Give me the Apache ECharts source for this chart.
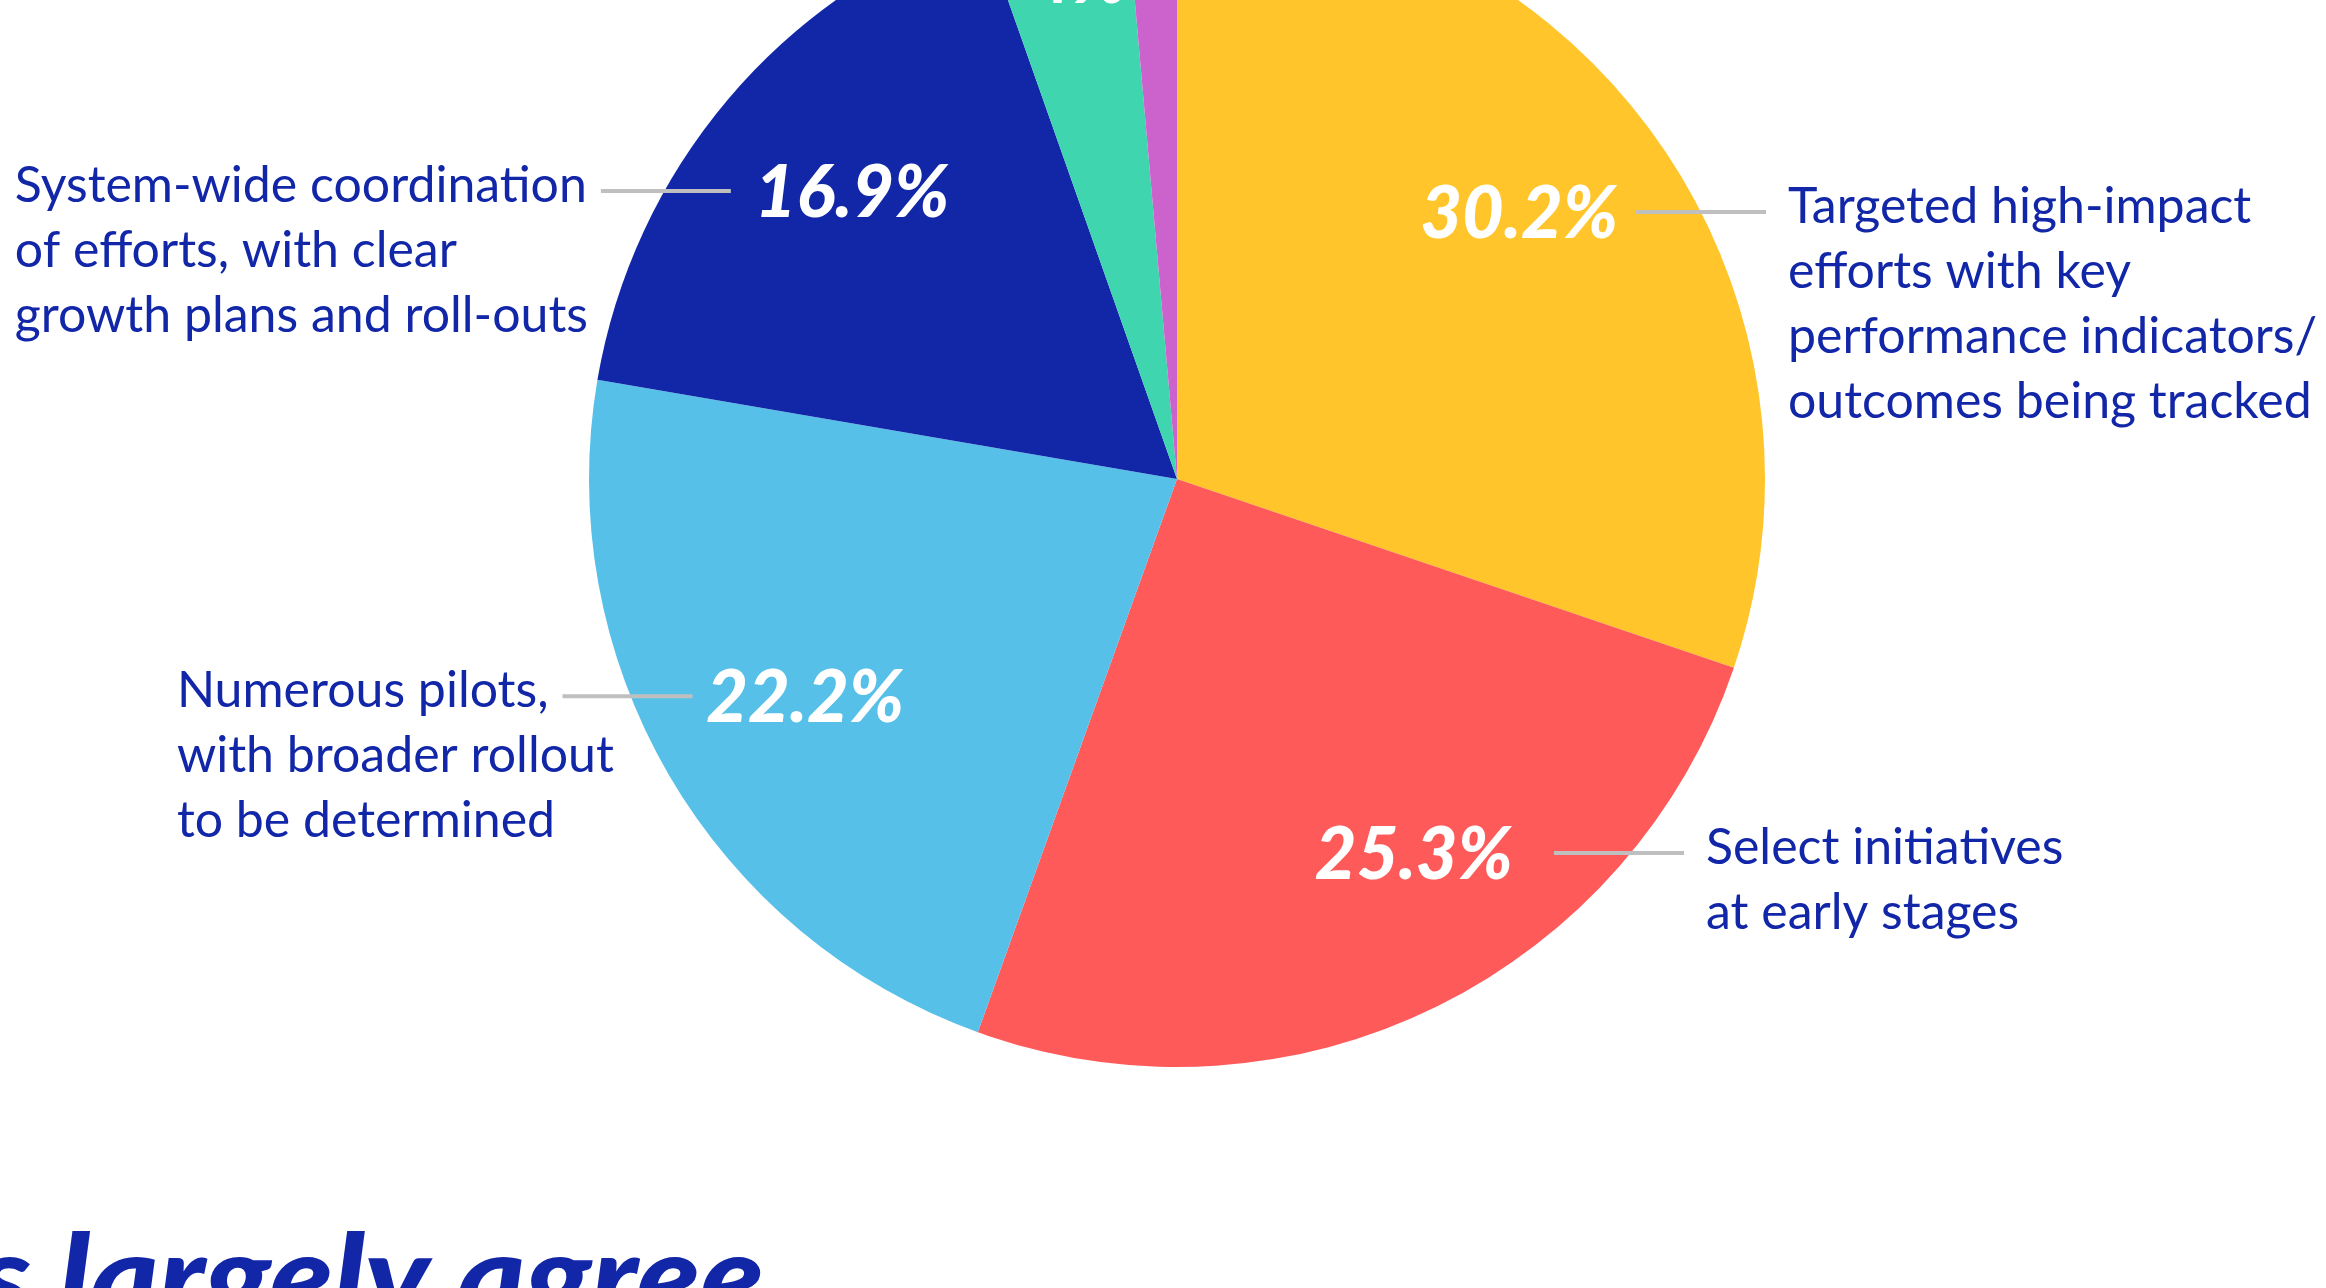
<!DOCTYPE html>
<html>
<head>
<meta charset="utf-8">
<script src="https://cdn.jsdelivr.net/npm/echarts@6/dist/echarts.min.js"></script>
<style>
  html, body { margin: 0; padding: 0; background: #fff; }
  #main { width: 2326px; height: 1288px; }
</style>
</head>
<body>
<div id="main"></div>
<script>
// data (clockwise from 12 o'clock)
var categories = [
  'Targeted high-impact\nefforts with key\nperformance indicators/\noutcomes being tracked',
  'Select initiatives\nat early stages',
  'Numerous pilots,\nwith broader rollout\nto be determined',
  'System-wide coordination\nof efforts, with clear\ngrowth plans and roll-outs',
  '',
  ''
];
var shares = [30.2, 25.3, 22.2, 16.9, 4.0, 1.4];
var sliceColors = ['#FFC52B', '#FF5A5A', '#56C0E8', '#1226A8', '#3ED5AF', '#CC63CC'];
var footerText = 's largely agree';

// layout
var CX = 1177, CY = 479, R = 588;
var labelShift = [-2, -6.4, -0.4, 1.1, 1.2, 0];   // degrees, nudges of the % labels
var TEXT_FONT = 'Lato';
var TEXT_SIZE = 50, TEXT_LH = 65;
var INK = '#1226A8';

var total = shares.reduce(function (a, b) { return a + b; }, 0);

function pctPos(i) {
  var before = 0;
  for (var k = 0; k < i; k++) before += shares[k];
  var ang = (before + shares[i] / 2) / total * 360 + labelShift[i];
  var rr = shares[i] < 5 ? 0.865 * R : (i === 1 ? 0.757 * R : 0.735 * R);
  var a = ang * Math.PI / 180;
  return [CX + rr * Math.sin(a), CY - rr * Math.cos(a)];
}

var measureCtx = document.createElement('canvas').getContext('2d');
function firstLineWidth(i) {
  measureCtx.font = TEXT_SIZE + 'px ' + TEXT_FONT;
  return measureCtx.measureText(categories[i].split('\n')[0]).width;
}

var chart = echarts.init(document.getElementById('main'));

var option = {
  backgroundColor: '#fff',
  animation: false,
  graphic: [{
    type: 'text',
    x: -22,
    y: 1222,
    scaleX: 1.1,
    silent: true,
    style: {
      text: footerText,
      font: 'italic 900 118px Lato',
      fill: INK,
      align: 'left',
      verticalAlign: 'top'
    }
  }],
  series: [
    {
      type: 'pie',
      center: [CX, CY],
      radius: [0, R],
      startAngle: 90,
      clockwise: true,
      silent: true,
      avoidLabelOverlap: false,
      data: shares.map(function (v, i) {
        return { value: v, name: 'slice' + i, itemStyle: { color: sliceColors[i] } };
      }),
      itemStyle: { borderWidth: 0 },
      label: {
        show: true,
        position: 'inside',
        formatter: function (p) {
          var v = shares[p.dataIndex];
          return (v % 1 === 0 ? v : v.toFixed(1)) + '%';
        },
        color: '#fff',
        fontFamily: 'Lato',
        fontStyle: 'italic',
        fontWeight: 900,
        fontSize: 72
      },
      labelLine: { show: false },
      labelLayout: function (p) {
        var pt = pctPos(p.dataIndex);
        return { x: pt[0], y: pt[1], align: 'center', verticalAlign: 'middle' };
      }
    },
    {
      type: 'pie',
      center: [CX, CY],
      radius: [0, R],
      startAngle: 90,
      clockwise: true,
      silent: true,
      z: 3,
      avoidLabelOverlap: false,
      data: shares.map(function (v, i) {
        return {
          value: v,
          name: categories[i],
          label: { show: categories[i] !== '' },
          labelLine: { show: categories[i] !== '' }
        };
      }),
      itemStyle: { color: 'rgba(0,0,0,0)', borderWidth: 0 },
      label: {
        show: true,
        position: 'outside',
        formatter: '{b}',
        color: INK,
        fontFamily: TEXT_FONT,
        fontSize: TEXT_SIZE,
        lineHeight: TEXT_LH,
        align: 'left'
      },
      labelLine: {
        show: true,
        length: 10,
        length2: 10,
        lineStyle: { color: '#BFBFBF', width: 4 }
      },
      labelLayout: function (p) {
        var i = p.dataIndex;
        var pt = pctPos(i);
        var ly = pt[1] - 3;
        var dy = ly - CY;
        var rIn = 0.903 * R;
        var half = Math.sqrt(Math.max(0, rIn * rIn - dy * dy));
        var right = pt[0] > CX;
        var x0 = right ? CX + half : CX - half;
        var x1 = right ? x0 + 130 : x0 - 130;
        var tx = right ? x1 + 22 : x1 - 14 - firstLineWidth(i);
        return {
          x: tx,
          y: ly - 5 - TEXT_LH / 2,
          align: 'left',
          verticalAlign: 'top',
          labelLinePoints: [[x0, ly], [(x0 + x1) / 2, ly], [x1, ly]]
        };
      }
    }
  ]
};

chart.setOption(option);
</script>
</body>
</html>
